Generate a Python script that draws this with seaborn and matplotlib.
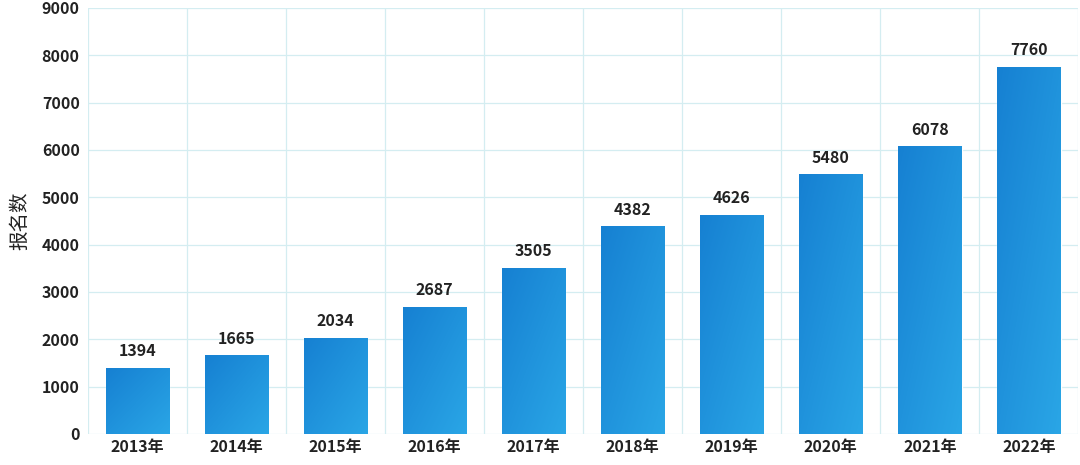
import matplotlib
matplotlib.use("Agg")
import matplotlib.pyplot as plt
import seaborn as sns
import numpy as np
import pandas as pd

years = ["2013年","2014年","2015年","2016年","2017年","2018年","2019年","2020年","2021年","2022年"]
counts = [1394,1665,2034,2687,3505,4382,4626,5480,6078,7760]
yticks = [0,1000,2000,3000,4000,5000,6000,7000,8000,9000]

sns.set_theme(style="white")
plt.rcParams['font.family'] = ['Noto Sans CJK SC', 'DejaVu Sans']

fig = plt.figure(figsize=(10.8, 4.65), dpi=100)
ax = fig.add_axes([0.0815, 0.067, 0.917, 0.916])
df = pd.DataFrame({"year": years, "count": counts})
sns.barplot(data=df, x="year", y="count", color="#1e8fd8", width=0.64, ax=ax, zorder=3)

ax.set_ylim(0, 9000)
ax.set_xlim(-0.5, len(years) - 0.5)
ax.set_yticks(yticks)
ax.set_yticklabels([str(t) for t in yticks], fontsize=11.5, fontweight="bold", color="#222222")
ax.tick_params(axis="x", labelsize=11.5, length=0, pad=4)
for l in ax.get_xticklabels():
    l.set_fontweight("bold"); l.set_color("#222222")
ax.tick_params(axis="y", length=0, pad=6)
ax.set_xlabel("")
ax.set_ylabel("报名数", fontsize=14, color="#222222", labelpad=8)

for y in yticks:
    ax.axhline(y, color="#d4edf1", lw=0.9, zorder=1)
for x in np.arange(-0.5, len(years), 1.0):
    ax.axvline(x, color="#d4edf1", lw=0.9, zorder=1)
for s in ax.spines.values():
    s.set_visible(False)

grad = np.linspace(0, 1, 256)
G = (grad[None, :] + grad[:, None]) / 2
cmap = matplotlib.colors.LinearSegmentedColormap.from_list("g", ["#1680d2", "#2aa6e6"])
for p, v in zip(ax.patches, counts):
    x0, w = p.get_x(), p.get_width()
    im = ax.imshow(G, cmap=cmap, extent=[x0, x0 + w, 0, v], aspect="auto", zorder=4)
    im.set_clip_path(p)
    ax.text(x0 + w / 2, v + 180, str(v), ha="center", va="bottom",
            fontsize=11.5, fontweight="bold", color="#222222", zorder=5)
ax.set_xlim(-0.5, len(years) - 0.5)
ax.set_ylim(0, 9000)

fig.savefig("out.png", dpi=100)
